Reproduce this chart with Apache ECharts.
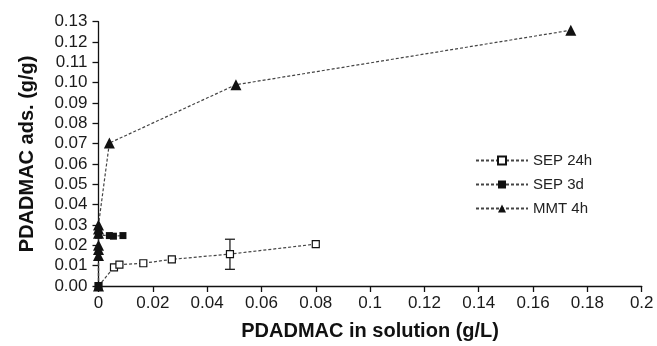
<!DOCTYPE html>
<html>
<head>
<meta charset="utf-8">
<script src="https://cdn.jsdelivr.net/npm/echarts@6/dist/echarts.min.js"></script>
<style>
  html, body { margin: 0; padding: 0; background: #fff; }
  #chart { width: 657px; height: 346px; }
</style>
</head>
<body>
<div id="chart"></div>
<script>
// 資料 (x: PDADMAC in solution g/L, y: ads. g/g)
const sep24hX = [0, 0.0057, 0.0077, 0.0165, 0.027, 0.0484, 0.080];
const sep24hY = [0, 0.0092, 0.0105, 0.0112, 0.0131, 0.0157, 0.0206];
// 誤差棒 [x, low, high]
const sep24hErr = [[0.0484, 0.0082, 0.0230]];

const sep3dX = [0, 0, 0.004, 0.0055, 0.009];
const sep3dY = [0, 0.025, 0.0248, 0.0245, 0.0248];

const mmt4hX = [0, 0, 0, 0, 0, 0, 0, 0.004, 0.0506, 0.1739];
const mmt4hY = [0, 0.015, 0.018, 0.020, 0.026, 0.028, 0.030, 0.0703, 0.099, 0.1258];

const zip = (xs, ys) => xs.map((x, i) => [x, ys[i]]);

const font = '"Liberation Sans", Arial, Helvetica, sans-serif';
const lineDash = { color: '#444', width: 1.2, type: [3, 2] };

const chart = echarts.init(document.getElementById('chart'));

chart.setOption({
  backgroundColor: '#fff',
  animation: false,
  textStyle: { fontFamily: font },
  grid: { left: 98.5, right: 15.3, top: 21.7, bottom: 60 },
  legend: {
    orient: 'vertical',
    left: 470,
    top: 148,
    itemWidth: 52,
    itemHeight: 10,
    itemGap: 9,
    textStyle: { fontSize: 15, color: '#222', fontFamily: font },
    data: ['SEP 24h', 'SEP 3d', 'MMT 4h']
  },
  xAxis: {
    type: 'value',
    min: 0,
    max: 0.2,
    interval: 0.02,
    name: 'PDADMAC in solution (g/L)',
    nameLocation: 'middle',
    nameGap: 35,
    nameTextStyle: { fontSize: 20, fontWeight: 'bold', color: '#111', fontFamily: font },
    axisLine: { lineStyle: { color: '#111', width: 1.3 } },
    axisTick: { length: 6, lineStyle: { color: '#111', width: 1.3 } },
    axisLabel: { fontSize: 17, color: '#1a1a1a', margin: 9, fontFamily: font },
    splitLine: { show: false }
  },
  yAxis: {
    type: 'value',
    min: 0,
    max: 0.13,
    interval: 0.01,
    name: 'PDADMAC ads. (g/g)',
    nameLocation: 'middle',
    nameGap: 61,
    nameTextStyle: { fontSize: 20, fontWeight: 'bold', color: '#111', fontFamily: font },
    axisLine: { show: true, lineStyle: { color: '#111', width: 1.3 } },
    axisTick: { show: true, length: 6, lineStyle: { color: '#111', width: 1.3 } },
    axisLabel: { fontSize: 17, color: '#1a1a1a', margin: 11, fontFamily: font,
      formatter: v => v.toFixed(2) },
    splitLine: { show: false }
  },
  series: [
    {
      name: 'SEP 24h',
      type: 'line',
      data: zip(sep24hX, sep24hY),
      symbol: 'rect',
      symbolSize: 7,
      itemStyle: { color: '#fff', borderColor: '#111', borderWidth: 1.2 },
      lineStyle: lineDash,
      z: 3
    },
    {
      name: 'SEP 24h',
      type: 'custom',
      data: sep24hErr,
      renderItem: (params, api) => {
        const x = api.value(0);
        const lo = api.coord([x, api.value(1)]);
        const hi = api.coord([x, api.value(2)]);
        const cap = 5;
        const style = { stroke: '#222', lineWidth: 1.3 };
        return {
          type: 'group',
          children: [
            { type: 'line', shape: { x1: lo[0], y1: lo[1], x2: hi[0], y2: hi[1] }, style },
            { type: 'line', shape: { x1: lo[0] - cap, y1: lo[1], x2: lo[0] + cap, y2: lo[1] }, style },
            { type: 'line', shape: { x1: hi[0] - cap, y1: hi[1], x2: hi[0] + cap, y2: hi[1] }, style }
          ]
        };
      },
      z: 2
    },
    {
      name: 'SEP 3d',
      type: 'line',
      data: zip(sep3dX, sep3dY),
      symbol: 'rect',
      symbolSize: 7,
      itemStyle: { color: '#111' },
      lineStyle: lineDash,
      z: 3
    },
    {
      name: 'MMT 4h',
      type: 'line',
      data: zip(mmt4hX, mmt4hY),
      symbol: 'triangle',
      symbolSize: 11,
      itemStyle: { color: '#111' },
      lineStyle: lineDash,
      z: 3
    }
  ]
});
</script>
</body>
</html>
